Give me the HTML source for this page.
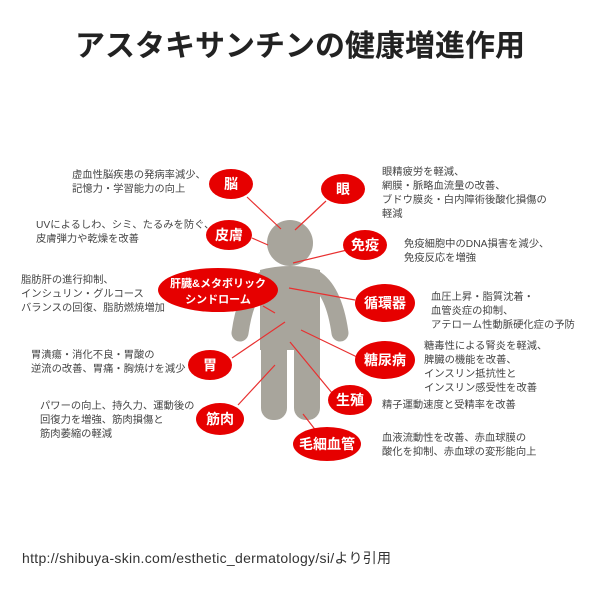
<!DOCTYPE html>
<html><head><meta charset="utf-8"><style>
body{margin:0;width:600px;height:600px;background:#fff;overflow:hidden;position:relative;font-family:"Liberation Sans","Noto Sans CJK JP",sans-serif}
.t{position:absolute;font-size:10.3px;line-height:14px;color:#444;white-space:nowrap}
h1{position:absolute;top:29px;left:0;width:600px;text-align:center;margin:0;font-size:30px;line-height:36px;font-weight:bold;color:#222;letter-spacing:0px}
</style></head><body>
<h1>アスタキサンチンの健康増進作用</h1>
<svg width="600" height="600" style="position:absolute;left:0;top:0">
<g fill="#a8a59c" stroke="none">
<circle cx="290" cy="243" r="23"/>
<path d="M260 270 Q290 262 320 270 L320 350 L260 350 Z"/>
<rect x="261" y="300" width="26" height="120" rx="12"/>
<rect x="294" y="300" width="26" height="120" rx="12"/>
</g>
<g stroke="#a8a59c" stroke-width="17" stroke-linecap="round" fill="none">
<path d="M266 278 Q246 290 240 333"/>
<path d="M314 278 Q334 290 340 333"/>
</g>
<g stroke="#e83030" stroke-width="1.2">
<line x1="247" y1="197" x2="281" y2="229"/>
<line x1="326" y1="201" x2="295" y2="230"/>
<line x1="252" y1="238" x2="268" y2="245"/>
<line x1="347" y1="250" x2="293" y2="263"/>
<line x1="263" y1="306" x2="275" y2="313"/>
<line x1="355" y1="300" x2="289" y2="288"/>
<line x1="232" y1="358" x2="285" y2="322"/>
<line x1="357" y1="357" x2="301" y2="330"/>
<line x1="332" y1="393" x2="290" y2="342"/>
<line x1="238" y1="405" x2="275" y2="365"/>
<line x1="317" y1="432" x2="303" y2="414"/>
</g>
<g fill="#e60000">
<ellipse cx="231" cy="184" rx="22" ry="15"/>
<ellipse cx="343" cy="189" rx="22" ry="15"/>
<ellipse cx="229" cy="235" rx="23" ry="15"/>
<ellipse cx="365" cy="245" rx="22" ry="15"/>
<ellipse cx="218" cy="290" rx="60" ry="22"/>
<ellipse cx="385" cy="303" rx="30" ry="19"/>
<ellipse cx="210" cy="365" rx="22" ry="15"/>
<ellipse cx="385" cy="360" rx="30" ry="19"/>
<ellipse cx="350" cy="400" rx="22" ry="15"/>
<ellipse cx="220" cy="419" rx="24" ry="16"/>
<ellipse cx="327" cy="444" rx="34" ry="17"/>
</g>
<g fill="#fff" font-family="Liberation Sans,Noto Sans CJK JP,sans-serif" font-weight="bold" text-anchor="middle" font-size="14">
<text x="231" y="189">脳</text>
<text x="343" y="194">眼</text>
<text x="229" y="240">皮膚</text>
<text x="365" y="250">免疫</text>
<text x="218" y="287" font-size="11">肝臓&amp;メタボリック</text>
<text x="218" y="303" font-size="11">シンドローム</text>
<text x="385" y="308">循環器</text>
<text x="210" y="370">胃</text>
<text x="385" y="365">糖尿病</text>
<text x="350" y="405">生殖</text>
<text x="220" y="424">筋肉</text>
<text x="327" y="449">毛細血管</text>
</g>
</svg>
<div class="t" style="left:72px;top:169px">虚血性脳疾患の発病率減少、<br>記憶力・学習能力の向上</div>
<div class="t" style="left:36px;top:219px">UVによるしわ、シミ、たるみを防ぐ、<br>皮膚弾力や乾燥を改善</div>
<div class="t" style="left:21px;top:274px">脂肪肝の進行抑制、<br>インシュリン・グルコース<br>バランスの回復、脂肪燃焼増加</div>
<div class="t" style="left:31px;top:349px">胃潰瘍・消化不良・胃酸の<br>逆流の改善、胃痛・胸焼けを減少</div>
<div class="t" style="left:40px;top:400px">パワーの向上、持久力、運動後の<br>回復力を増強、筋肉損傷と<br>筋肉萎縮の軽減</div>
<div class="t" style="left:382px;top:166px">眼精疲労を軽減、<br>網膜・脈略血流量の改善、<br>ブドウ膜炎・白内障術後酸化損傷の<br>軽減</div>
<div class="t" style="left:404px;top:238px">免疫細胞中のDNA損害を減少、<br>免疫反応を増強</div>
<div class="t" style="left:431px;top:291px">血圧上昇・脂質沈着・<br>血管炎症の抑制、<br>アテローム性動脈硬化症の予防</div>
<div class="t" style="left:424px;top:340px">糖毒性による腎炎を軽減、<br>脾臓の機能を改善、<br>インスリン抵抗性と<br>インスリン感受性を改善</div>
<div class="t" style="left:382px;top:399px">精子運動速度と受精率を改善</div>
<div class="t" style="left:382px;top:432px">血液流動性を改善、赤血球膜の<br>酸化を抑制、赤血球の変形能向上</div>
<div class="t" style="left:22px;top:549px;font-size:14px;line-height:18px;color:#333;letter-spacing:0.3px">http://shibuya-skin.com/esthetic_dermatology/si/より引用</div>
</body></html>
